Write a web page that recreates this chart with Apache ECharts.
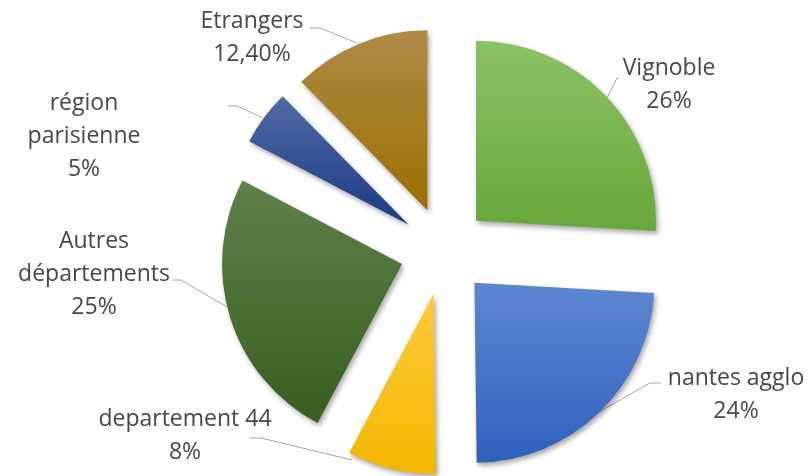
<!DOCTYPE html>
<html>
<head>
<meta charset="utf-8">
<script src="https://cdn.jsdelivr.net/npm/echarts@6/dist/echarts.min.js"></script>
<style>
  html, body { margin: 0; padding: 0; background: #fff; }
  #main { width: 812px; height: 476px; }
</style>
</head>
<body>
<div id="main"></div>
<script>
// slices, clockwise from 12 o'clock
const names = ['Vignoble', 'nantes agglo', 'departement 44', 'Autres départements', 'région parisienne', 'Etrangers']
const values = [26, 24, 8, 25, 5, 12.4]
const labelNames = ['Vignoble', 'nantes agglo', 'departement 44', 'Autres\ndépartements', 'région\nparisienne', 'Etrangers']
const valueLabels = ['26%', '24%', '8%', '25%', '5%', '12,40%']

const topColors = ['#8cc266', '#5d87d1', '#ffca3c', '#5e8149', '#4f6aa4', '#af8b47']
const bottomColors = ['#67a83a', '#2f61bd', '#f2b700', '#375e1f', '#1c3c83', '#9b6e00']

// label anchors (centre of text block) and leader lines
const labelPos = [[669, 85], [736, 395], [185, 436], [94, 274], [84, 136], [252, 38]]
const leaderLines = [
  [[607, 98], [617, 78], [619, 78]],
  [[597, 413], [650, 383], [661, 383]],
  [[352, 460], [261, 438], [250, 438]],
  [[227, 307], [181, 280], [172, 280]],
  [[263, 118], [237, 106], [228, 106]],
  [[357, 43], [320, 28], [310, 28]]
]

const data = names.map((n, i) => ({
  name: n,
  value: values[i],
  selected: true,
  itemStyle: {
    color: {
      type: 'linear', x: 0, y: 0, x2: 0, y2: 1,
      colorStops: [
        { offset: 0, color: topColors[i] },
        { offset: 1, color: bottomColors[i] }
      ]
    }
  }
}))

const graphics = []
names.forEach((n, i) => {
  graphics.push({
    type: 'polyline',
    silent: true,
    shape: { points: leaderLines[i] },
    style: { stroke: '#a6a6a6', lineWidth: 1, fill: null }
  })
  graphics.push({
    type: 'text',
    silent: true,
    x: labelPos[i][0],
    y: labelPos[i][1],
    style: {
      text: labelNames[i] + '\n' + valueLabels[i],
      fontFamily: 'Open Sans',
      fontSize: 23,
      lineHeight: 33,
      fill: '#474747',
      align: 'center',
      verticalAlign: 'middle'
    }
  })
})

const chart = echarts.init(document.getElementById('main'))
chart.setOption({
  animation: false,
  graphic: graphics,
  series: [
    {
      type: 'pie',
      center: [444, 251],
      radius: 180,
      startAngle: 90,
      clockwise: true,
      selectedMode: 'multiple',
      selectedOffset: 44,
      data: data,
      itemStyle: {
        borderWidth: 0,
        shadowBlur: 5,
        shadowOffsetX: 2,
        shadowOffsetY: 3,
        shadowColor: 'rgba(0,0,0,0.35)'
      },
      label: { show: false },
      labelLine: { show: false },
      emphasis: { disabled: true }
    }
  ]
})
</script>
</body>
</html>
